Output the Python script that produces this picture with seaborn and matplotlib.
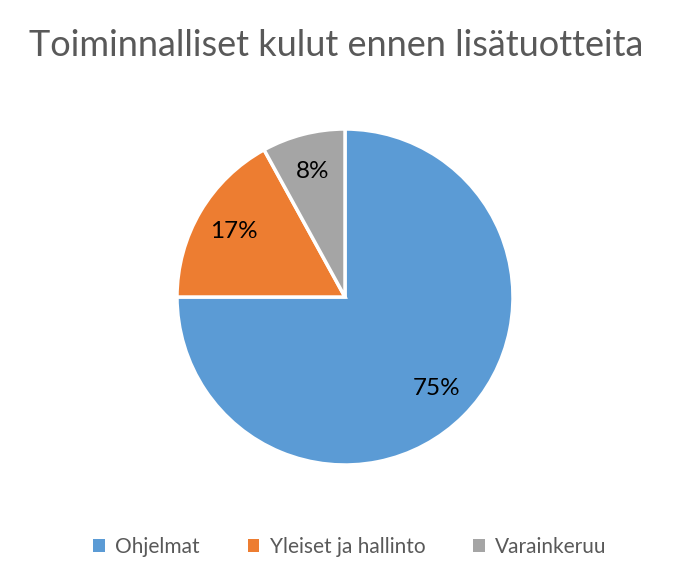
import matplotlib
matplotlib.use("Agg")
import matplotlib.pyplot as plt
import seaborn as sns
from matplotlib.patches import Patch

# data
categories = ["Ohjelmat", "Yleiset ja hallinto", "Varainkeruu"]
shares = [75, 17, 8]
colors = ["#5B9BD5", "#ED7D31", "#A5A5A5"]

sns.set_theme(style="white")
plt.rcParams["font.family"] = ["Lato", "DejaVu Sans"]

fig = plt.figure(figsize=(7, 5.8), dpi=100)
fig.patch.set_facecolor("white")

cx, cy, r = 345, 580 - 297, 168
ax = fig.add_axes([(cx - r) / 700, (cy - r) / 580, 2 * r / 700, 2 * r / 580])

wedges, texts, autotexts = ax.pie(
    shares,
    colors=colors,
    startangle=90,
    counterclock=False,
    autopct="%1.0f%%",
    pctdistance=0.77,
    wedgeprops={"edgecolor": "white", "linewidth": 2.5},
    textprops={"fontsize": 17.5, "color": "black"},
)
ax.set_xlim(-1, 1)
ax.set_ylim(-1, 1)
ax.set_aspect("equal")

fig.text(0.48, 1 - 45 / 580, "Toiminnalliset kulut ennen lisätuotteita",
         ha="center", va="center", fontsize=26, color="#595959")

handles = [Patch(facecolor=c, edgecolor="none") for c in colors]
fig.legend(handles, categories, loc="center", bbox_to_anchor=(0.5, 1 - 547 / 580),
           ncol=3, frameon=False, fontsize=15, labelcolor="#595959",
           handlelength=0.55, handleheight=0.55, handletextpad=0.5, columnspacing=2.3)

fig.savefig("out.png", dpi=100, facecolor="white")
